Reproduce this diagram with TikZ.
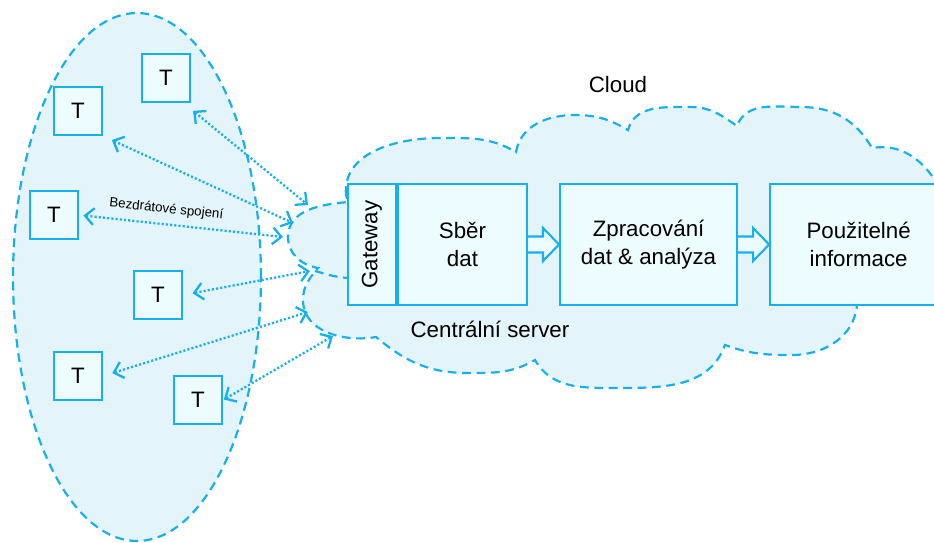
\documentclass[tikz,border=0pt]{standalone}
\usepackage{fontspec}
\setmainfont{Liberation Sans}
\usetikzlibrary{positioning,arrows.meta}
\definecolor{iotblue}{RGB}{22,176,234}
\definecolor{areafill}{RGB}{227,244,251}
\definecolor{boxfill}{RGB}{237,252,255}

\begin{document}
\begin{tikzpicture}[x=0.02cm, y=0.02cm,
                        every node/.style={font=\fontsize{12.7}{16.2}\selectfont, text=black},
                        tnode/.style={rectangle, draw=iotblue, fill=boxfill, line width=1.2pt, minimum size=0.96cm, inner sep=0pt},
                        blockbox/.style={rectangle, draw=iotblue, fill=boxfill, line width=1.2pt, minimum height=2.42cm, align=center, inner sep=0pt},
                        area/.style={draw=iotblue, fill=areafill, line width=1.25pt, dash pattern=on 5pt off 3.2pt},
                        wireless/.style={draw=iotblue, line width=1.3pt, dash pattern=on 1.2pt off 1.2pt,
                                         {Straight Barb[length=5pt,width=9.5pt]}-{Straight Barb[length=5pt,width=9.5pt]}},
                        flow/.style={draw=iotblue, fill=boxfill, line width=1.2pt}]

                        \useasboundingbox (0,0) rectangle (934,-542);

                        % Terminal area and cloud
                        \path[area] (137,-277) ellipse [x radius=2.48cm, y radius=5.28cm];
                        \path[area] (346,-195)
                            to[out=95,in=180] (440,-138) to[out=0,in=150] (516,-152)
                            to[out=80,in=180] (575,-115) to[out=0,in=150] (628,-130)
                            to[out=75,in=180] (690,-107) to[out=0,in=145] (737,-126)
                            to[out=70,in=180] (801,-107) to[out=0,in=120] (872,-148)
                            to[out=10,in=100] (950,-220) to[out=-80,in=0] (900,-300) -- (857,-305)
                            to[out=-95,in=0] (792,-355) to[out=180,in=-20] (725,-345)
                            to[out=-110,in=0] (613,-388) to[out=180,in=-60] (535,-360)
                            to[out=-150,in=0] (468,-373) to[out=180,in=-40] (376,-337)
                            to[out=190,in=-90] (303,-300) to[out=90,in=-130] (318,-268)
                            to[out=170,in=-90] (288,-237) to[out=90,in=185] (348,-202)
                            -- cycle;
                        \draw[area, fill=none] (315,-271) to[out=-15,in=180] (352,-278);

                        % Define nodes
                        \node[tnode] (T1) at (166,-78) {T};
                        \node[tnode] (T2) at (78,-111) {T};
                        \node[tnode] (T3) at (54,-215) {T};
                        \node[tnode] (T4) at (158,-295) {T};
                        \node[tnode] (T5) at (78,-376) {T};
                        \node[tnode] (T6) at (198,-400) {T};

                        \node[blockbox, minimum width=2.58cm] (SB) at (462.5,-244.5) {Sběr\\dat};
                        \node[blockbox, minimum width=2.42cm, minimum height=0.96cm, rotate=90, anchor=south] (GW) at (SB.west) {Gateway};
                        \node[blockbox, minimum width=3.54cm, right=0.62cm of SB] (PR) {Zpracování\\dat \& analýza};
                        \node[blockbox, minimum width=3.54cm, right=0.62cm of PR] (INF) {Použitelné\\informace};

                        \node (CL) at (618,-85) {Cloud};
                        \node (CS) at (490,-329) {Centrální server};

                        % Ends of the links on the cloud
                        \coordinate (E1) at (308,-205);
                        \coordinate (E2) at (293,-223);
                        \coordinate (E3) at (283,-237);
                        \coordinate (E4) at (310,-271);
                        \coordinate (E5) at (308,-312);
                        \coordinate (E6) at (333,-336);

                        % Define edges
                        \draw[wireless, shorten <=7pt] (T1.-55) -- (E1);
                        \draw[wireless, shorten <=5.5pt] (T2.south east) -- (E2);
                        \draw[wireless, shorten <=2.5pt] (T3.east) -- node[pos=0.42, above=1pt, sloped, font=\fontsize{7.6}{9}\selectfont] {Bezdrátové spojení} (E3);
                        \draw[wireless, shorten <=5.5pt] (T4.east) -- (E4);
                        \draw[wireless, shorten <=5.5pt] (T5.east) -- (E5);
                        \draw[wireless, shorten <=0.5pt] (T6.east) -- (E6);

                        \foreach \src/\dst in {SB/PR, PR/INF}
                            \draw[flow] (\src.east) ++(0,8) -- ++(15,0) -- ++(0,8.5) -- (\dst.west) -- ++(-16,-16.5) -- ++(0,8.5) -- ++(-15,0);
\end{tikzpicture}
\end{document}
